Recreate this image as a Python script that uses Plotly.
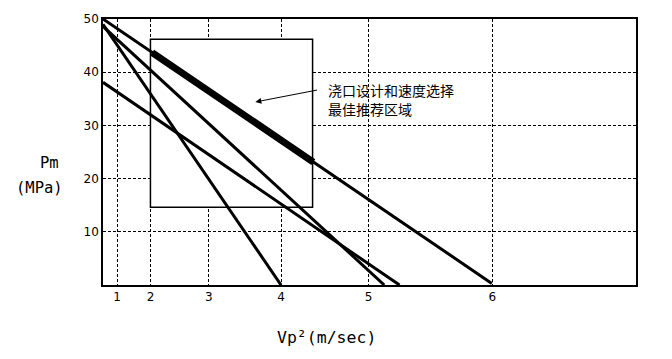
import plotly.graph_objects as go

# Axis positions (linear plotting units) and their labels
x_tick_pos = [0.266, 0.89, 1.983, 3.34, 4.982, 7.306]
x_tick_labels = ["1", "2", "3", "4", "5", "6"]
y_ticks = [10, 20, 30, 40, 50]

# Lines: start/end points
line1_x = [0.0, 7.295]
line1_y = [50.0, 0.3]
line2_x = [0.0, 5.277]
line2_y = [48.6, 0.0]
line3_x = [0.0, 3.34]
line3_y = [49.0, 0.0]
line4_x = [0.0, 5.563]
line4_y = [38.1, 0.0]
thick_x = [0.922, 3.946]
thick_y = [43.7, 23.1]

# Recommended region rectangle
rect_x = [0.89, 3.932]
rect_y = [14.6, 46.2]

note_lines = ["浇口设计和速度选择", "最佳推荐区域"]
note_y = [36.6, 33.1]

fig = go.Figure()
for xs, ys in [(line1_x, line1_y), (line2_x, line2_y), (line3_x, line3_y), (line4_x, line4_y)]:
    fig.add_trace(go.Scatter(x=xs, y=ys, mode="lines",
                             line=dict(color="black", width=3), showlegend=False, hoverinfo="skip"))
fig.add_trace(go.Scatter(x=thick_x, y=thick_y, mode="lines",
                         line=dict(color="black", width=7), showlegend=False, hoverinfo="skip"))

fig.add_shape(type="rect", x0=rect_x[0], x1=rect_x[1], y0=rect_y[0], y1=rect_y[1],
              xref="x", yref="y", fillcolor="white", line=dict(color="black", width=1.5),
              layer="between")

fig.add_annotation(x=2.858, y=34.4, ax=4.045, ay=36.7, xref="x", yref="y",
                   axref="x", ayref="y", text="", showarrow=True,
                   arrowhead=2, arrowsize=1.2, arrowwidth=1, arrowcolor="black")
for txt, yy in zip(note_lines, note_y):
    fig.add_annotation(x=4.2, y=yy, xref="x", yref="y", text=txt, showarrow=False,
                       xanchor="left", yanchor="middle", align="left", borderpad=0,
                       font=dict(family="Noto Sans CJK SC", size=14, color="black"))

title_font = dict(family="DejaVu Sans Mono", color="black")
fig.add_annotation(x=-0.1003, y=0.457, xref="paper", yref="paper", text="Pm",
                   showarrow=False, xanchor="center", yanchor="middle",
                   font=dict(size=15.5, **title_font))
fig.add_annotation(x=-0.12, y=0.364, xref="paper", yref="paper", text="(MPa)",
                   showarrow=False, xanchor="center", yanchor="middle",
                   font=dict(size=15.5, **title_font))
fig.add_annotation(x=0.42, y=-0.197, xref="paper", yref="paper", text="Vp²(m/sec)",
                   showarrow=False, xanchor="center", yanchor="middle",
                   font=dict(size=16.5, **title_font))

fig.update_xaxes(range=[0, 10], tickvals=x_tick_pos, ticktext=x_tick_labels,
                 showgrid=True, gridcolor="black", gridwidth=1, griddash="3px,2px",
                 showline=True, linecolor="black", linewidth=1.5, mirror=True,
                 zeroline=False, ticks="", tickfont=dict(family="DejaVu Sans", size=12, color="black"))
fig.update_yaxes(range=[0, 50], tickvals=y_ticks,
                 showgrid=True, gridcolor="black", gridwidth=1, griddash="3px,2px",
                 showline=True, linecolor="black", linewidth=1.5, mirror=True,
                 zeroline=False, ticks="", tickfont=dict(family="DejaVu Sans", size=12, color="black"))

fig.update_layout(width=672, height=359, margin=dict(l=103, r=36, t=16, b=74),
                  plot_bgcolor="white", paper_bgcolor="white", showlegend=False)

fig.write_html("out.html", config={"displayModeBar": False},
               post_script="document.body.style.margin='0px';")
